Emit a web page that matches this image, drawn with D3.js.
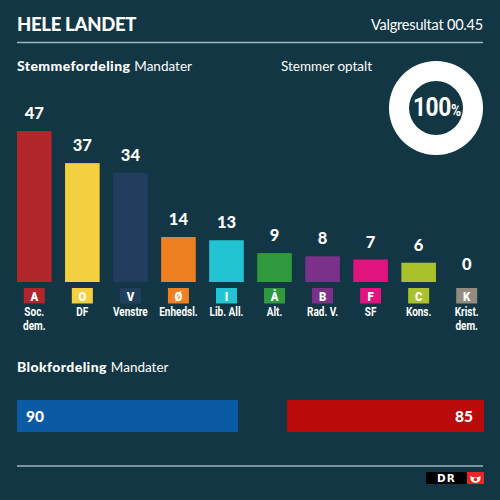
<!DOCTYPE html>
<html><head><meta charset="utf-8">
<script src="https://cdn.jsdelivr.net/npm/d3@7"></script>
<style>
html,body{margin:0;padding:0;background:#123644;}
svg{display:block;}
.cond{font-family:"Roboto","DejaVu Sans",sans-serif;}
.main{font-family:"Lato","Open Sans",sans-serif;}
</style>
</head><body>
<svg id="chart" width="500" height="500"></svg>
<script>
const parties = ["A","O","V","Ø","I","Å","B","F","C","K"];
const partyNames = [["Soc.","dem."],["DF"],["Venstre"],["Enhedsl."],["Lib. All."],["Alt."],["Rad. V."],["SF"],["Kons."],["Krist.","dem."]];
const seats = [47,37,34,14,13,9,8,7,6,0];
const partyColors = ["#b0262a","#f4d040","#213e5e","#ee8021","#22c4d4","#2e9a3d","#7b3188","#e0137f","#a9c12b","#948b7e"];
const blocks = ["Blå blok","Rød blok"];
const blockSeats = [90,85];
const blockColors = ["#0b5aa4","#ba0a0a"];
const countedPct = 100;

const svg = d3.select("#chart");
const W = 500, H = 500;
svg.append("rect").attr("width",W).attr("height",H).attr("fill","#123644");

// header
svg.append("text").attr("class","main").attr("x",17).attr("y",31)
  .attr("fill","#fff").attr("font-size",18.5).attr("font-weight",900).attr("letter-spacing",-0.3).text("HELE LANDET");
svg.append("text").attr("class","main").attr("x",483).attr("y",30).attr("text-anchor","end")
  .attr("fill","#fff").attr("font-size",14.5).attr("letter-spacing",-0.2).text("Valgresultat 00.45");
svg.append("line").attr("x1",17).attr("x2",483).attr("y1",42.5).attr("y2",42.5)
  .attr("stroke","#9fb4bf").attr("stroke-width",1.5);

// section titles
const st = svg.append("text").attr("class","main").attr("x",17).attr("y",71).attr("fill","#fff").attr("font-size",14);
st.append("tspan").attr("font-weight",900).attr("letter-spacing",0.4).text("Stemmefordeling");
st.append("tspan").attr("dx",4).attr("font-size",13.5).attr("letter-spacing",0).text("Mandater");
svg.append("text").attr("class","main").attr("x",281).attr("y",71).attr("fill","#fff").attr("font-size",13.5).text("Stemmer optalt");

// donut
const cx = 436, cy = 108;
const arc = d3.arc().innerRadius(27).outerRadius(47);
const pie = d3.pie().sort(null)([countedPct, 100-countedPct]);
svg.append("g").attr("transform",`translate(${cx},${cy})`).selectAll("path").data(pie).join("path")
  .attr("d",arc).attr("fill",(d,i)=> i===0 ? "#ffffff" : "#123644");
const pt = svg.append("text").attr("class","cond").attr("transform",`translate(${cx+1},${cy+8}) scale(0.86,1)`)
  .attr("text-anchor","middle").attr("fill","#fff").attr("font-weight",700);
pt.append("tspan").attr("font-size",26.5).attr("letter-spacing",-0.5).text(countedPct);
pt.append("tspan").attr("font-size",16).text("%");

// bar chart
const x = d3.scaleBand().domain(parties).range([17,484]).paddingInner(0.28).paddingOuter(0);
const baseY = 282;
const y = d3.scaleLinear().domain([0,47]).range([baseY,131]);
const mid = d => x(d)+x.bandwidth()/2;

const g = svg.append("g");
g.selectAll("rect.bar").data(parties).join("rect").attr("class","bar")
  .attr("x",d=>x(d)).attr("width",x.bandwidth())
  .attr("y",(d,i)=>y(seats[i])).attr("height",(d,i)=>baseY-y(seats[i]))
  .attr("fill",(d,i)=>partyColors[i]);
g.selectAll("text.val").data(parties).join("text").attr("class","val main")
  .attr("x",mid).attr("y",(d,i)=>y(seats[i])-12)
  .attr("text-anchor","middle").attr("fill","#fff").attr("font-size",16.5).attr("font-weight",900)
  .text((d,i)=>seats[i]);
// letter boxes
g.selectAll("rect.box").data(parties).join("rect").attr("class","box")
  .attr("x",d=>mid(d)-10.5).attr("width",21).attr("y",288).attr("height",15.5)
  .attr("fill",(d,i)=>partyColors[i]);
g.selectAll("text.letter").data(parties).join("text").attr("class","letter cond")
  .attr("transform",d=>`translate(${mid(d)},300.5) scale(0.95,1)`).attr("text-anchor","middle")
  .attr("fill","#fff").attr("font-size",12).attr("font-weight",900).text(d=>d);
// names (one text element per line)
const nameLines = [];
parties.forEach((p,i)=>partyNames[i].forEach((s,j)=>nameLines.push({p, s, j})));
g.selectAll("text.name").data(nameLines).join("text").attr("class","name cond")
  .attr("transform",d=>`translate(${mid(d.p)},${316 + d.j*13.5}) scale(0.8,1)`).attr("text-anchor","middle")
  .attr("fill","#fff").attr("font-size",12.5).attr("font-weight",700)
  .text(d=>d.s);

// block section
const bt = svg.append("text").attr("class","main").attr("x",17).attr("y",372).attr("fill","#fff").attr("font-size",14);
bt.append("tspan").attr("font-weight",900).attr("letter-spacing",0.4).text("Blokfordeling");
bt.append("tspan").attr("dx",4).attr("font-size",13.5).attr("letter-spacing",0).text("Mandater");

const bw = d3.scaleLinear().domain([44,90]).range([0,221]);
const by0 = 400, bh = 32;
svg.append("rect").attr("x",17).attr("y",by0).attr("width",bw(blockSeats[0])).attr("height",bh).attr("fill",blockColors[0]);
svg.append("rect").attr("x",484-bw(blockSeats[1])).attr("y",by0).attr("width",bw(blockSeats[1])).attr("height",bh).attr("fill",blockColors[1]);
svg.append("text").attr("class","main").attr("x",26).attr("y",422).attr("fill","#fff").attr("font-size",15.5).attr("font-weight",900).text(blockSeats[0]);
svg.append("text").attr("class","main").attr("x",473).attr("y",422).attr("text-anchor","end").attr("fill","#fff").attr("font-size",15.5).attr("font-weight",900).text(blockSeats[1]);

svg.append("line").attr("x1",17).attr("x2",483).attr("y1",466).attr("y2",466)
  .attr("stroke","#9fb4bf").attr("stroke-width",1.5);

// DR logo
const lg = svg.append("g").attr("transform","translate(426,472)");
lg.append("rect").attr("width",41).attr("height",12).attr("fill","#000");
lg.append("text").attr("x",20.5).attr("y",10).attr("text-anchor","middle").attr("fill","#fff")
  .attr("font-family","DejaVu Sans").attr("font-weight",700).attr("font-size",10.5).attr("letter-spacing",1).text("DR");
lg.append("rect").attr("x",41).attr("width",17).attr("height",12).attr("fill","#e8262a");
lg.append("path").attr("d","M44.5,4 Q49.5,7 54.5,4 L54.5,6.5 A5,4.2 0 0 1 44.5,6.5 Z").attr("fill","#fff");
lg.append("circle").attr("cx",49.5).attr("cy",7.5).attr("r",1.8).attr("fill","#e8262a");
</script>
</body></html>
